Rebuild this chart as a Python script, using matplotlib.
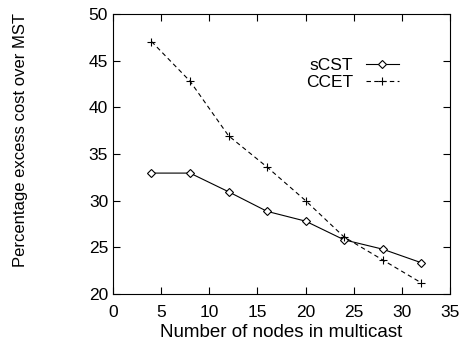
import matplotlib
matplotlib.use("Agg")
import matplotlib.pyplot as plt

plt.rcParams["font.family"] = ["Liberation Sans", "DejaVu Sans"]

nodes = [4, 8, 12, 16, 20, 24, 28, 32]
scst = [32.95, 32.95, 30.95, 28.85, 27.8, 25.8, 24.8, 23.35]
ccet = [47.05, 42.8, 36.95, 33.6, 30.0, 26.1, 23.65, 21.2]

fs = 12.5
fig = plt.figure(figsize=(4.63, 3.41), dpi=100)
ax = fig.add_axes([0.244, 0.138, 0.728, 0.821])

ax.plot(nodes, scst, "k-", marker="D", markersize=4, markerfacecolor="white",
        markeredgewidth=0.8, linewidth=0.8, label="sCST")
ax.plot(nodes, ccet, "k--", marker="+", markersize=6, markeredgewidth=0.8,
        linewidth=0.8, dashes=(4, 3), label="CCET")

ax.set_xlim(0, 35)
ax.set_ylim(20, 50)
ax.set_xticks(range(0, 36, 5))
ax.set_yticks(range(20, 51, 5))
ax.tick_params(direction="in", top=True, right=True, labelsize=fs, length=5)
ax.tick_params(axis="x", pad=8)
ax.set_xlabel("Number of nodes in multicast", fontsize=13.5)
ax.xaxis.set_label_coords(0.5, -0.107, transform=ax.transAxes)
ax.xaxis.label.set_va("top")
ax.set_ylabel("Percentage excess cost over MST", fontsize=12)
ax.yaxis.set_label_coords(-0.273, 0.55)
ax.yaxis.label.set_va("center")

ax.legend(loc="upper right", bbox_to_anchor=(0.873, 0.875), frameon=False,
          markerfirst=False, fontsize=fs, handlelength=1.9, handletextpad=0.7,
          labelspacing=0.1, borderpad=0)

fig.savefig("out.png", dpi=100)
